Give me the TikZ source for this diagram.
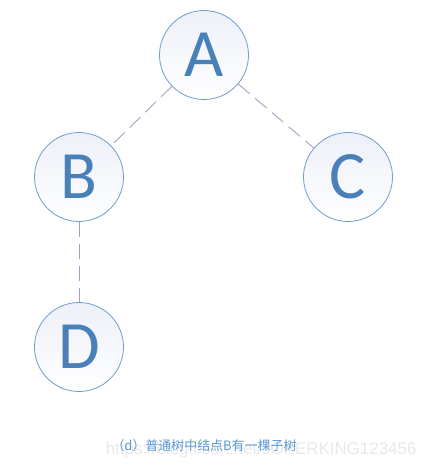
\documentclass[tikz,border=0pt]{standalone}
\usepackage{fontspec}
\setmainfont{Carlito}
\newfontfamily\cjk{Noto Sans CJK SC}
\newfontfamily\wmfont{Liberation Sans}
\definecolor{letterblue}{HTML}{4A80B8}
\definecolor{ringblue}{HTML}{6F9DD0}
\definecolor{shadeblue}{HTML}{EDF0F8}
\definecolor{edgegray}{HTML}{A99CC2}
\definecolor{capblue}{HTML}{5B9BD5}
\tikzset{
  treenode/.style={circle, draw=ringblue, line width=0.8bp, minimum size=89bp, inner sep=0pt,
    top color=shadeblue, bottom color=white, text=letterblue, font=\fontsize{68}{68}\selectfont},
  treeedge/.style={draw=edgegray, line width=0.9bp, dash pattern=on 15bp off 7bp}
}
\begin{document}
\begin{tikzpicture}[x=1bp, y=-1bp]
        \useasboundingbox (0,0) rectangle (430,466);
        %%nodes
        \node[treenode] (A) at (204, 55){A};
        \node[treenode] (B) at (79, 177){B};
        \node[treenode] (C) at (348, 177){C};
        \node[treenode] (D) at (79, 347){D};

        %%edges
        \draw[treeedge] (A) to (B);
        \draw[treeedge] (A) to (C);
        \draw[treeedge] (B) to (D);

        %%caption
        \node[anchor=east, text=gray!18, font=\wmfont\fontsize{17}{17}\selectfont] (mark) at (420, 450){https://blog.csdn.net/JOKERKING123456};
        \node[text=capblue, font=\cjk\fontsize{13}{13}\selectfont] (cap) at (204, 446){（d）普通树中结点B有一棵子树};
\end{tikzpicture}
\end{document}
